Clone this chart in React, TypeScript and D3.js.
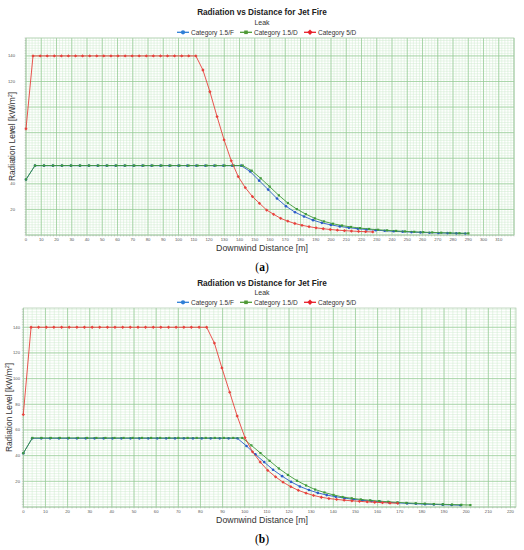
import React from 'react';
import * as d3 from 'd3';

// ---------- DATA ----------
const SERIES_NAMES = ['Category 1.5/F', 'Category 1.5/D', 'Category 5/D'];

// Panel (a)
const A_BLUE_X = [0, 5.9, 11.8, 17.6, 23.5, 29.4, 35.3, 41.2, 47.0, 52.9, 58.8, 64.7, 70.6, 76.4, 82.3, 88.2, 94.1, 100.0, 105.8, 111.7, 117.6, 123.5, 129.4, 135.2, 141.1, 147.0, 152.9, 158.8, 164.6, 170.5, 176.4, 182.3, 188.2, 194.0, 199.9, 205.8, 211.7, 217.6, 223.4, 229.3, 235.2, 241.1, 247.0, 252.8, 258.7, 264.6, 270.5, 276.4, 282.2, 288.1];
const A_BLUE_Y = [43.4, 54.2, 54.2, 54.2, 54.2, 54.2, 54.2, 54.2, 54.2, 54.2, 54.2, 54.2, 54.2, 54.2, 54.2, 54.2, 54.2, 54.2, 54.2, 54.2, 54.2, 54.2, 54.2, 54.2, 54.2, 49.6, 42.5, 35.5, 28.5, 22.5, 17.8, 14.5, 11.6, 9.5, 7.9, 6.7, 5.7, 4.9, 4.3, 3.8, 3.3, 2.9, 2.6, 2.3, 2.0, 1.8, 1.6, 1.5, 1.3, 1.2];
const A_GREEN_X = [0, 5.9, 11.8, 17.8, 23.7, 29.6, 35.5, 41.4, 47.4, 53.3, 59.2, 65.1, 71.0, 77.0, 82.9, 88.8, 94.7, 100.6, 106.6, 112.5, 118.4, 124.3, 130.2, 136.2, 142.1, 148.0, 153.9, 159.8, 165.8, 171.7, 177.6, 183.5, 189.4, 195.4, 201.3, 207.2, 213.1, 219.0, 225.0, 230.9, 236.8, 242.7, 248.6, 254.6, 260.5, 266.4, 272.3, 278.2, 284.2, 290.1];
const A_GREEN_Y = [43.4, 54.3, 54.3, 54.3, 54.3, 54.3, 54.3, 54.3, 54.3, 54.3, 54.3, 54.3, 54.3, 54.3, 54.3, 54.3, 54.3, 54.3, 54.3, 54.3, 54.3, 54.3, 54.3, 54.3, 54.3, 50.3, 44.3, 37.8, 31, 25, 20.2, 16.3, 13, 10.6, 8.8, 7.4, 6.3, 5.4, 4.7, 4.1, 3.6, 3.2, 2.8, 2.5, 2.2, 2.0, 1.8, 1.6, 1.4, 1.3];
const A_RED_X = [0, 4.6, 9.3, 13.9, 18.6, 23.2, 27.8, 32.5, 37.1, 41.8, 46.4, 51.0, 55.7, 60.3, 65.0, 69.6, 74.2, 78.9, 83.5, 88.2, 92.8, 97.4, 102.1, 106.7, 111.4, 116.0, 120.6, 125.3, 129.9, 134.6, 139.2, 143.8, 148.5, 153.1, 157.8, 162.4, 167.0, 171.7, 176.3, 181.0, 185.6, 190.2, 194.9, 199.5, 204.2, 208.8, 213.4, 218.1, 222.7, 227.4];
const A_RED_Y = [83, 140, 140, 140, 140, 140, 140, 140, 140, 140, 140, 140, 140, 140, 140, 140, 140, 140, 140, 140, 140, 140, 140, 140, 140, 129, 112, 92.5, 74.3, 58, 45.6, 37, 30, 24.8, 19.5, 16.2, 13, 10.8, 9, 7.6, 6.5, 5.6, 4.9, 4.3, 3.8, 3.4, 3.1, 2.8, 2.6, 2.4];

// Panel (b)
const B_BLUE_X = [0, 4.0, 8.1, 12.1, 16.1, 20.2, 24.2, 28.2, 32.2, 36.3, 40.3, 44.3, 48.4, 52.4, 56.4, 60.5, 64.5, 68.5, 72.5, 76.6, 80.6, 84.6, 88.7, 92.7, 96.7, 100.8, 104.8, 108.8, 112.8, 116.9, 120.9, 124.9, 129.0, 133.0, 137.0, 141.1, 145.1, 149.1, 153.1, 157.2, 161.2, 165.2, 169.3, 173.3, 177.3, 181.4, 185.4, 189.4, 193.4, 197.5];
const B_BLUE_Y = [41.9, 53.5, 53.5, 53.5, 53.5, 53.5, 53.5, 53.5, 53.5, 53.5, 53.5, 53.5, 53.5, 53.5, 53.5, 53.5, 53.5, 53.5, 53.5, 53.5, 53.5, 53.5, 53.5, 53.5, 53.5, 47.5, 41, 35, 29, 24, 19.6, 16, 13.2, 11, 9.3, 8, 6.9, 6, 5.2, 4.6, 4, 3.6, 3.2, 2.8, 2.5, 2.2, 2.0, 1.8, 1.6, 1.4];
const B_GREEN_X = [0, 4.1, 8.2, 12.4, 16.5, 20.6, 24.7, 28.8, 33.0, 37.1, 41.2, 45.3, 49.4, 53.6, 57.7, 61.8, 65.9, 70.0, 74.2, 78.3, 82.4, 86.5, 90.6, 94.8, 98.9, 103.0, 107.1, 111.2, 115.4, 119.5, 123.6, 127.7, 131.8, 136.0, 140.1, 144.2, 148.3, 152.4, 156.6, 160.7, 164.8, 168.9, 173.0, 177.2, 181.3, 185.4, 189.5, 193.6, 197.8, 201.9];
const B_GREEN_Y = [41.9, 53.8, 53.8, 53.8, 53.8, 53.8, 53.8, 53.8, 53.8, 53.8, 53.8, 53.8, 53.8, 53.8, 53.8, 53.8, 53.8, 53.8, 53.8, 53.8, 53.8, 53.8, 53.8, 53.8, 53.8, 48, 42, 36, 30, 25, 20.5, 16.8, 13.6, 11.3, 9.4, 7.8, 6.8, 5.9, 5.2, 4.6, 4.1, 3.6, 3.2, 2.9, 2.6, 2.3, 2.1, 1.9, 1.7, 1.5];
const B_RED_X = [0, 3.5, 6.9, 10.4, 13.8, 17.3, 20.7, 24.2, 27.6, 31.1, 34.5, 38.0, 41.4, 44.9, 48.3, 51.8, 55.2, 58.7, 62.1, 65.6, 69.0, 72.5, 75.9, 79.4, 82.8, 86.3, 89.7, 93.2, 96.6, 100.1, 103.5, 107.0, 110.4, 113.9, 117.3, 120.8, 124.2, 127.7, 131.1, 134.6, 138.0, 141.5, 144.9, 148.4, 151.8, 155.3, 158.7, 162.2, 165.6, 169.1];
const B_RED_Y = [72, 140, 140, 140, 140, 140, 140, 140, 140, 140, 140, 140, 140, 140, 140, 140, 140, 140, 140, 140, 140, 140, 140, 140, 140, 127.7, 108.3, 89.4, 70.8, 54, 43, 35, 28.5, 23.5, 19.3, 15.8, 13, 10.8, 9.0, 7.6, 6.6, 5.9, 5.3, 4.8, 4.4, 4.0, 3.7, 3.4, 3.1, 2.9];

const A_X_TICKS = [0, 10, 20, 30, 40, 50, 60, 70, 80, 90, 100, 110, 120, 130, 140, 150, 160, 170, 180, 190, 200, 210, 220, 230, 240, 250, 260, 270, 280, 290, 300, 310];
const B_X_TICKS = [0, 10, 20, 30, 40, 50, 60, 70, 80, 90, 100, 110, 120, 130, 140, 150, 160, 170, 180, 190, 200, 210, 220];
const Y_TICKS = [20, 40, 60, 80, 100, 120, 140];

// ---------- STYLE ----------
const COLORS = ['#2a5ac8', '#3f9a3a', '#e8413c'];
const LEGEND_COLORS = ['#2f7fd6', '#4f9a35', '#e8202a'];
const SHAPES = ['circle', 'square', 'diamond'];
const FONT = '"Liberation Sans", Arial, sans-serif';

type Layout = {
  top: number;
  plot: { l: number; t: number; r: number; b: number };
  xMax: number;
  yMax: number;
  xTicks: number[];
  yLabelRight: number;
  caption: string;
};

function Marker({ shape, x, y, s, color }: { shape: string; x: number; y: number; s: number; color: string }) {
  if (shape === 'circle') return <circle cx={x} cy={y} r={s * 0.6} fill={color} />;
  if (shape === 'square') return <rect x={x - s / 2} y={y - s / 2} width={s} height={s} fill={color} />;
  const h = s * 0.75;
  return <path d={`M${x},${y - h}L${x + h},${y}L${x},${y + h}L${x - h},${y}Z`} fill={color} />;
}

function Panel({ L, data }: { L: Layout; data: { xs: number[]; ys: number[] }[] }) {
  const { plot, top } = L;
  const x = d3.scaleLinear().domain([0, L.xMax]).range([plot.l, plot.r]);
  const y = d3.scaleLinear().domain([0, L.yMax]).range([plot.b, plot.t]);
  const minorX = d3.range(0, L.xMax + 0.001, 2);
  const minorY = d3.range(0, L.yMax + 0.001, 2);
  const majorX = d3.range(0, L.xMax + 0.001, 10);
  const majorY = d3.range(0, L.yMax + 0.001, 20);
  const cx = 262;
  const legendX = [177, 240, 304];
  const legendY = plot.t - 5.7;
  const line = d3.line<[number, number]>().x((d) => x(d[0])).y((d) => y(d[1]));
  return (
    <g fontFamily={FONT}>
      <text x={cx} y={top + 15.3} textAnchor="middle" fontSize={8.2} fontWeight="bold" fill="#222">
        Radiation vs Distance for Jet Fire
      </text>
      <text x={cx} y={top + 24.6} textAnchor="middle" fontSize={7} fill="#333">
        Leak
      </text>
      {SERIES_NAMES.map((n, i) => (
        <g key={n}>
          <line x1={legendX[i]} x2={legendX[i] + 12} y1={legendY} y2={legendY} stroke={LEGEND_COLORS[i]} strokeWidth={1.3} />
          <Marker shape={SHAPES[i]} x={legendX[i] + 6} y={legendY} s={3.6} color={LEGEND_COLORS[i]} />
          <text x={legendX[i] + 14} y={legendY + 2.3} fontSize={6.5} fill="#333">
            {n}
          </text>
        </g>
      ))}
      <rect x={plot.l} y={plot.t} width={plot.r - plot.l} height={plot.b - plot.t} fill="#fff" />
      {minorX.map((v) => (
        <line key={'mx' + v} x1={x(v)} x2={x(v)} y1={plot.t} y2={plot.b} stroke="#cfeacf" strokeWidth={0.5} />
      ))}
      {minorY.map((v) => (
        <line key={'my' + v} x1={plot.l} x2={plot.r} y1={y(v)} y2={y(v)} stroke="#cfeacf" strokeWidth={0.5} />
      ))}
      {majorX.map((v) => (
        <line key={'Mx' + v} x1={x(v)} x2={x(v)} y1={plot.t} y2={plot.b} stroke="#92c892" strokeWidth={0.7} />
      ))}
      {majorY.map((v) => (
        <line key={'My' + v} x1={plot.l} x2={plot.r} y1={y(v)} y2={y(v)} stroke="#92c892" strokeWidth={0.7} />
      ))}
      <rect x={plot.l} y={plot.t} width={plot.r - plot.l} height={plot.b - plot.t} fill="none" stroke="#a9c9a9" strokeWidth={0.7} />
      {minorX.map((v) => (
        <line key={'tx' + v} x1={x(v)} x2={x(v)} y1={plot.b} y2={plot.b + 1.5} stroke="#999" strokeWidth={0.4} />
      ))}
      {minorY.map((v) => (
        <line key={'ty' + v} x1={plot.l - 1.5} x2={plot.l} y1={y(v)} y2={y(v)} stroke="#999" strokeWidth={0.4} />
      ))}
      {L.xTicks.map((v) => (
        <text key={'xl' + v} x={x(v)} y={plot.b + 6.3} textAnchor="middle" fontSize={4.2} fill="#555">
          {v}
        </text>
      ))}
      {Y_TICKS.map((v) => (
        <text key={'yl' + v} x={L.yLabelRight} y={y(v) + 1.5} textAnchor="end" fontSize={4.2} fill="#555">
          {v}
        </text>
      ))}
      <text x={cx} y={plot.b + 16} textAnchor="middle" fontSize={8.8} fill="#333">
        Downwind Distance [m]
      </text>
      <text
        transform={`translate(${plot.l - 11.5},${(plot.t + plot.b) / 2}) rotate(-90)`}
        textAnchor="middle"
        fontSize={8.4}
        fill="#333"
      >
        Radiation Level [kW/m<tspan dy={-3} fontSize={5.5}>2</tspan>
        <tspan dy={3}>]</tspan>
      </text>
      {data.map((s, i) => {
        const pts = s.xs.map((v, k) => [v, s.ys[k]] as [number, number]);
        return (
          <g key={'s' + i}>
            <path d={line(pts) || ''} fill="none" stroke={COLORS[i]} strokeWidth={0.9} />
            {pts.map((p, k) => (
              <Marker key={k} shape={SHAPES[i]} x={x(p[0])} y={y(p[1])} s={2.2} color={COLORS[i]} />
            ))}
          </g>
        );
      })}
      <text x={cx} y={plot.b + 36} textAnchor="middle" fontSize={11.5} fontFamily='"Liberation Serif", "Times New Roman", serif' fill="#000">
        (<tspan fontWeight="bold">{L.caption}</tspan>)
      </text>
    </g>
  );
}

const LAYOUT_A: Layout = {
  top: 0,
  plot: { l: 26, t: 38, r: 514, b: 235 },
  xMax: 320,
  yMax: 154,
  xTicks: A_X_TICKS,
  yLabelRight: 15,
  caption: 'a',
};
const LAYOUT_B: Layout = {
  top: 270.5,
  plot: { l: 23.3, t: 308, r: 516, b: 507 },
  xMax: 222.5,
  yMax: 155,
  xTicks: B_X_TICKS,
  yLabelRight: 20,
  caption: 'b',
};

export default function App() {
  return (
    <svg
      width={524}
      height={550}
      viewBox="0 0 524 550"
      style={{ position: 'absolute', left: 0, top: 0, background: '#fff' }}
    >
      <rect width={524} height={550} fill="#fff" />
      <Panel
        L={LAYOUT_A}
        data={[
          { xs: A_BLUE_X, ys: A_BLUE_Y },
          { xs: A_GREEN_X, ys: A_GREEN_Y },
          { xs: A_RED_X, ys: A_RED_Y },
        ]}
      />
      <Panel
        L={LAYOUT_B}
        data={[
          { xs: B_BLUE_X, ys: B_BLUE_Y },
          { xs: B_GREEN_X, ys: B_GREEN_Y },
          { xs: B_RED_X, ys: B_RED_Y },
        ]}
      />
    </svg>
  );
}
